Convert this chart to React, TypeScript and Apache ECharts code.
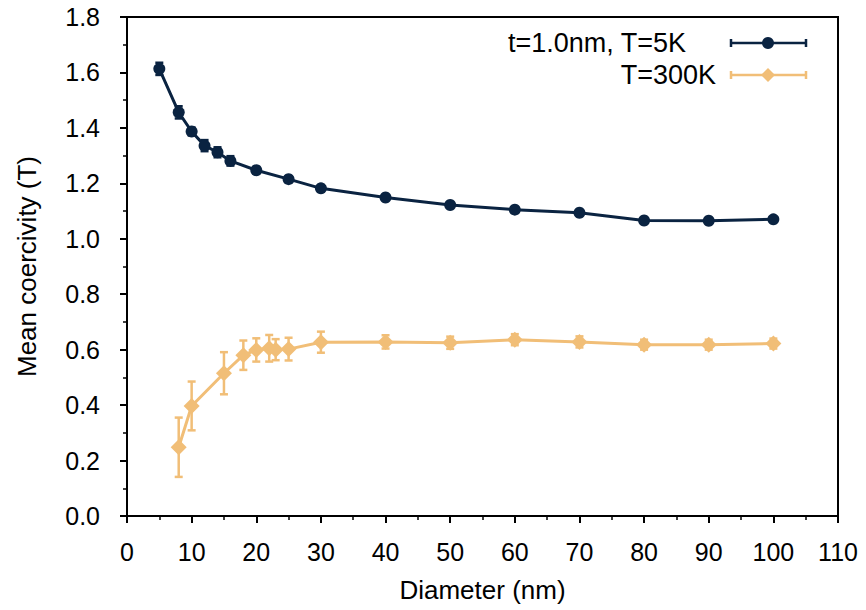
import React, { useEffect, useRef } from "react";
import * as echarts from "echarts";

const xTicks = [0, 110, 10];
const yTicks = [0, 1.8, 0.2];

const d5K = [5, 8, 10, 12, 14, 16, 20, 25, 30, 40, 50, 60, 70, 80, 90, 100];
const v5K = [1.613, 1.456, 1.387, 1.336, 1.312, 1.281, 1.247, 1.215, 1.182, 1.149, 1.122, 1.105, 1.094, 1.066, 1.065, 1.07];
const e5K = [0.022, 0.022, 0.014, 0.02, 0.018, 0.017, 0.012, 0.01, 0.012, 0.008, 0.008, 0.008, 0.008, 0.008, 0.008, 0.008];

const d300K = [8, 10, 15, 18, 20, 22, 23, 25, 30, 40, 50, 60, 70, 80, 90, 100];
const v300K = [0.248, 0.397, 0.515, 0.58, 0.599, 0.605, 0.6, 0.602, 0.627, 0.628, 0.625, 0.636, 0.628, 0.618, 0.618, 0.622];
const e300K = [0.107, 0.088, 0.076, 0.053, 0.042, 0.048, 0.038, 0.041, 0.038, 0.024, 0.022, 0.02, 0.02, 0.018, 0.018, 0.018];

const label5K = "t=1.0nm, T=5K";
const label300K = "T=300K";
const xTitle = "Diameter (nm)";
const yTitle = "Mean coercivity (T)";

const C5K = "#0a2341";
const C300K = "#f1be77";
const FONT = "Liberation Sans, Arial, sans-serif";

function errSeries(xs: number[], ys: number[], es: number[], color: string) {
  return {
    type: "custom",
    z: 3,
    encode: { x: 0, y: 1 },
    data: xs.map((x, i) => [x, ys[i], es[i]]),
    renderItem: (params: any, api: any) => {
      const x = api.value(0);
      const y = api.value(1);
      const e = api.value(2);
      const top = api.coord([x, y + e]);
      const bot = api.coord([x, y - e]);
      const h = 4;
      const st = { stroke: color, lineWidth: 2.5 };
      return {
        type: "group",
        children: [
          { type: "line", shape: { x1: top[0], y1: top[1], x2: bot[0], y2: bot[1] }, style: st },
          { type: "line", shape: { x1: top[0] - h, y1: top[1], x2: top[0] + h, y2: top[1] }, style: st },
          { type: "line", shape: { x1: bot[0] - h, y1: bot[1], x2: bot[0] + h, y2: bot[1] }, style: st },
        ],
      };
    },
  };
}

function legendRow(y: number, textRight: number, text: string, color: string, marker: any) {
  const st = { stroke: color, lineWidth: 2.5 };
  return [
    {
      type: "text",
      x: textRight,
      y: y,
      style: { text, fill: "#000", font: `27px ${FONT}`, align: "right", verticalAlign: "middle" },
    },
    { type: "line", shape: { x1: 731, y1: y, x2: 806, y2: y }, style: st },
    { type: "line", shape: { x1: 731, y1: y - 4, x2: 731, y2: y + 4 }, style: st },
    { type: "line", shape: { x1: 806, y1: y - 4, x2: 806, y2: y + 4 }, style: st },
    marker,
  ];
}

export default function App() {
  const ref = useRef<HTMLDivElement>(null);
  useEffect(() => {
    if (!ref.current) return;
    document.body.style.margin = "0";
    const chart = echarts.init(ref.current, undefined, { renderer: "svg" });
    const axisCommon = {
      axisLine: { show: true, lineStyle: { color: "#000", width: 2 } },
      axisTick: { show: true, inside: false, length: 7, lineStyle: { color: "#000", width: 2 } },
      minorTick: { show: true, splitNumber: 2, length: 4, lineStyle: { color: "#000", width: 1.5 } },
      splitLine: { show: false },
      minorSplitLine: { show: false },
    };
    chart.setOption({
      animation: false,
      backgroundColor: "#fff",
      grid: {
        left: 127,
        right: 28,
        top: 17,
        bottom: 94,
        show: true,
        borderColor: "#000",
        borderWidth: 2,
        backgroundColor: "transparent",
      },
      xAxis: {
        type: "value",
        min: xTicks[0],
        max: xTicks[1],
        interval: xTicks[2],
        ...axisCommon,
        axisLabel: { color: "#000", fontSize: 25, fontFamily: FONT, margin: 23 },
        name: xTitle,
        nameLocation: "middle",
        nameGap: 61,
        nameTextStyle: { color: "#000", fontSize: 26, fontFamily: FONT },
      },
      yAxis: {
        type: "value",
        min: yTicks[0],
        max: yTicks[1],
        interval: yTicks[2],
        ...axisCommon,
        axisLabel: {
          color: "#000",
          fontSize: 25,
          fontFamily: FONT,
          margin: 27,
          formatter: (v: number) => v.toFixed(1),
        },
        name: yTitle,
        nameLocation: "middle",
        nameGap: 87,
        nameTextStyle: { color: "#000", fontSize: 26, fontFamily: FONT },
      },
      series: [
        errSeries(d5K, v5K, e5K, C5K),
        errSeries(d300K, v300K, e300K, C300K),
        {
          type: "line",
          name: label5K,
          z: 4,
          data: d5K.map((x, i) => [x, v5K[i]]),
          symbol: "circle",
          symbolSize: 12,
          lineStyle: { color: C5K, width: 3 },
          itemStyle: { color: C5K },
        },
        {
          type: "line",
          name: label300K,
          z: 4,
          data: d300K.map((x, i) => [x, v300K[i]]),
          symbol: "diamond",
          symbolSize: 16,
          lineStyle: { color: C300K, width: 3 },
          itemStyle: { color: C300K },
        },
      ],
      graphic: [
        ...legendRow(43, 686, label5K, C5K, {
          type: "circle",
          shape: { cx: 768, cy: 43, r: 6 },
          style: { fill: C5K },
        }),
        ...legendRow(75, 716, label300K, C300K, {
          type: "polygon",
          shape: { points: [[768, 68], [775, 75], [768, 82], [761, 75]] },
          style: { fill: C300K },
        }),
      ],
    });
    return () => chart.dispose();
  }, []);
  return <div ref={ref} style={{ width: 866, height: 610 }} />;
}
